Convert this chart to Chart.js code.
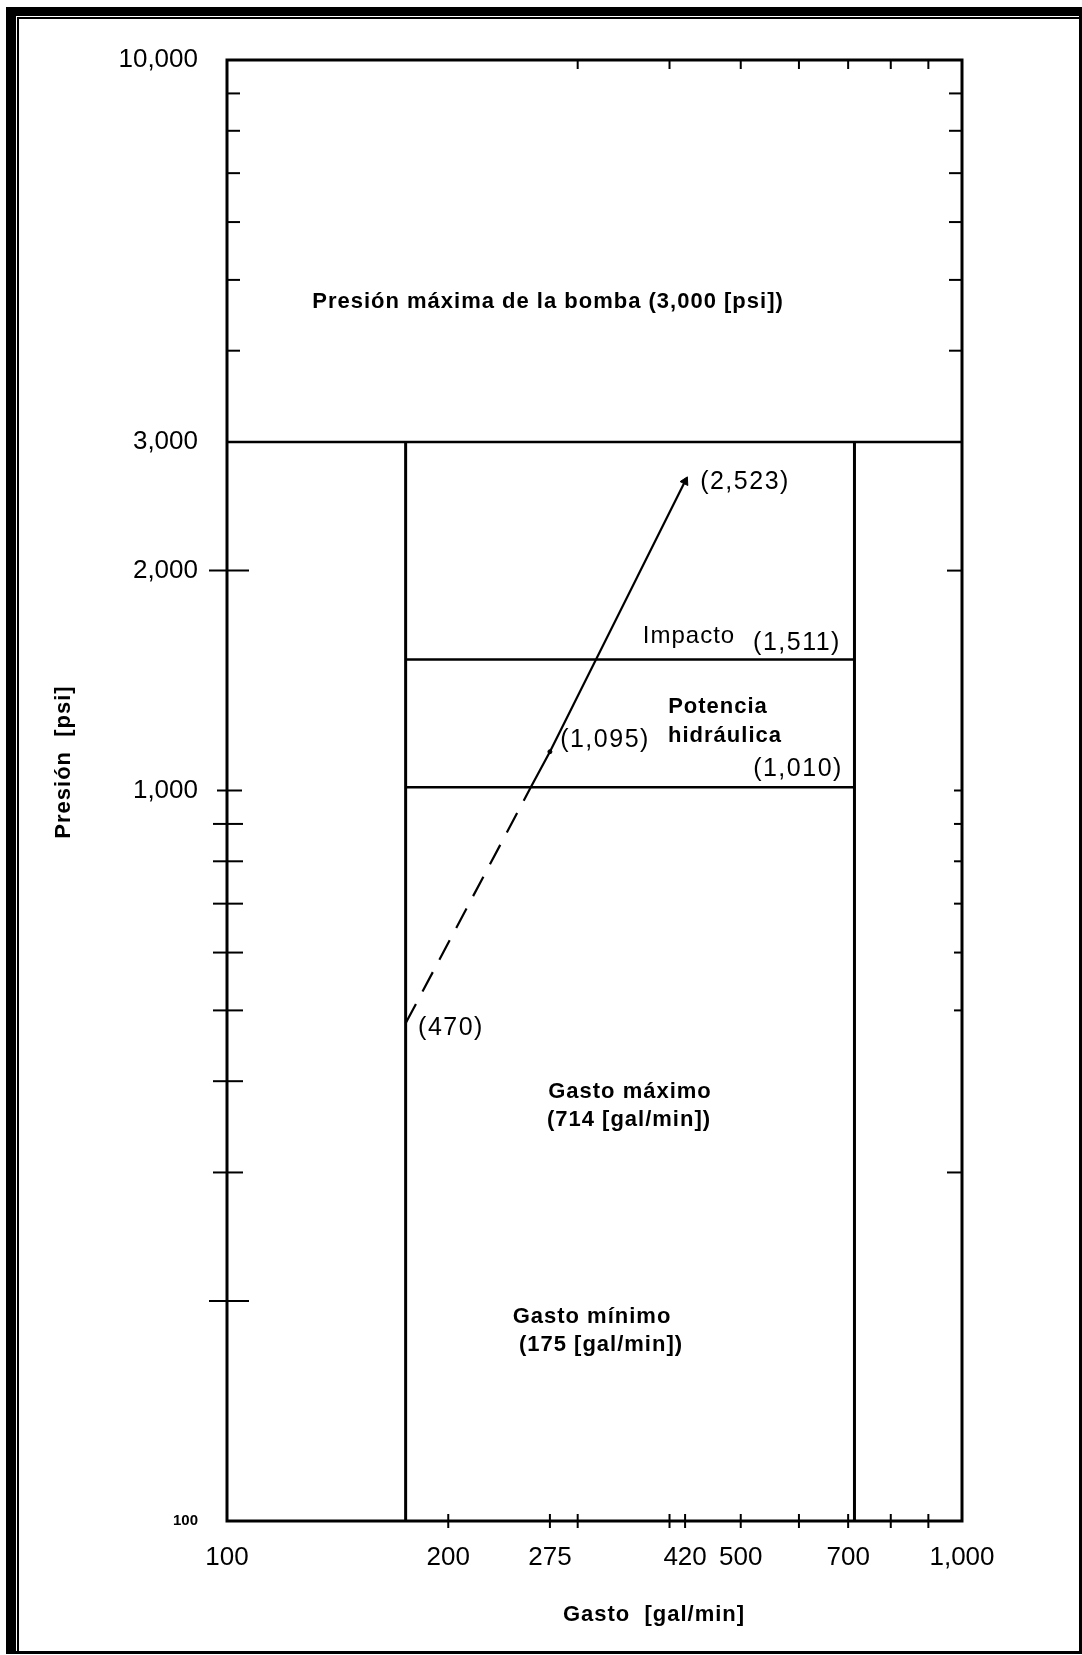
<!DOCTYPE html>
<html>
<head>
<meta charset="utf-8">
<script src="https://cdn.jsdelivr.net/npm/chart.js@4.4.0/dist/chart.umd.min.js"></script>
<style>
  html, body { margin: 0; padding: 0; background: #fff; }
  #wrap { width: 1082px; height: 1655px; }
</style>
</head>
<body>
<div id="wrap"><canvas id="chart" width="1082" height="1655"></canvas></div>
<script>
  // values
  const xRange = [100, 1000];
  const yRange = [100, 10000];

  const xLabelValues = [100, 200, 275, 420, 500, 700, 1000];
  const xLabelText = ['100', '200', '275', '420', '500', '700', '1,000'];
  const xBottomTicks = [200, 275, 300, 400, 420, 500, 600, 700, 800, 900];
  const xTopTicks = [300, 400, 500, 600, 700, 800, 900];

  const yLabelValues = [100, 1000, 2000, 3000, 10000];
  const yLabelText = ['100', '1,000', '2,000', '3,000', '10,000'];
  const yLeftTicks = [200, 300, 400, 500, 600, 700, 800, 900, 1000, 2000, 4000, 5000, 6000, 7000, 8000, 9000];
  const yRightTicks = [300, 500, 600, 700, 800, 900, 1000, 2000, 4000, 5000, 6000, 7000, 8000, 9000];

  const pumpMaxPsi = 3000;
  const flowMin = 175;
  const flowMax = 714;
  const impactPsi = 1511;
  const hpPsi = 1010;

  const opFlowSolid = [259, 275, 420];
  const opPsiSolid = [1010, 1130, 2650];
  const opFlowDashed = [175, 259];
  const opPsiDashed = [480, 1010];

  const FONT = "'Liberation Sans', Arial, Helvetica, sans-serif";

  // texts placed on the page (centre points, px)
  const notes = [
    { text: 'Presión máxima de la bomba (3,000 [psi])', x: 548, y: 302, size: 22, bold: true, sp: 1 },
    { text: '(2,523)', x: 745, y: 482, size: 25, sp: 1.5 },
    { text: 'Impacto', x: 689, y: 636, size: 24, sp: 1 },
    { text: '(1,511)', x: 797, y: 643, size: 25, sp: 1.5 },
    { text: 'Potencia', x: 718, y: 707, size: 22, bold: true, sp: 1 },
    { text: 'hidráulica', x: 725, y: 736, size: 22, bold: true, sp: 1 },
    { text: '(1,095)', x: 605, y: 740, size: 25, sp: 1.5 },
    { text: '(1,010)', x: 798, y: 769, size: 25, sp: 1.5 },
    { text: '(470)', x: 451, y: 1028, size: 25, sp: 1.5 },
    { text: 'Gasto máximo', x: 630, y: 1092, size: 22, bold: true, sp: 1 },
    { text: '(714 [gal/min])', x: 629, y: 1120, size: 22, bold: true, sp: 1 },
    { text: 'Gasto mínimo', x: 592, y: 1317, size: 22, bold: true, sp: 1 },
    { text: '(175 [gal/min])', x: 601, y: 1345, size: 22, bold: true, sp: 1 },
    { text: 'Gasto  [gal/min]', x: 654, y: 1615, size: 22, bold: true, sp: 1 },
    { text: 'Presión  [psi]', x: 64, y: 762, size: 22, bold: true, sp: 1, rot: -Math.PI / 2 }
  ];

  const pts = (xs, ys) => xs.map((x, i) => ({ x, y: ys[i] }));

  const pageFrame = {
    id: 'pageFrame',
    beforeDraw(chart) {
      const { ctx, width, height } = chart;
      ctx.save();
      ctx.fillStyle = '#fff';
      ctx.fillRect(0, 0, width, height);
      ctx.fillStyle = '#000';
      ctx.fillRect(6, 7, 10, height - 8);      // left thick
      ctx.fillRect(6, 7, width - 6, 9);        // top thick
      ctx.fillRect(17, 17, 2, height - 20);    // left thin
      ctx.fillRect(17, 17, width - 20, 2);     // top thin
      ctx.fillRect(width - 3, 7, 3, height - 8); // right
      ctx.fillRect(6, height - 4, width - 6, 3); // bottom
      ctx.restore();
    }
  };

  const axisMarks = {
    id: 'axisMarks',
    afterDraw(chart) {
      const { ctx, chartArea: a, scales: { x, y } } = chart;
      ctx.save();
      ctx.strokeStyle = '#000';
      ctx.lineCap = 'butt';
      const hline = (py, x0, x1) => { ctx.beginPath(); ctx.moveTo(x0, py); ctx.lineTo(x1, py); ctx.stroke(); };
      const vline = (px, y0, y1) => { ctx.beginPath(); ctx.moveTo(px, y0); ctx.lineTo(px, y1); ctx.stroke(); };

      ctx.lineWidth = 2;
      yLeftTicks.forEach(v => {
        const py = y.getPixelForValue(v);
        let out = 14, inn = 16;
        if (v === 200 || v === 2000) { out = 18; inn = 22; }
        else if (v === 1000) { out = 10; inn = 15; }
        else if (v > pumpMaxPsi) { out = 0; inn = 13; }
        hline(py, a.left - out, a.left + inn);
      });
      yRightTicks.forEach(v => {
        const py = y.getPixelForValue(v);
        let inn = 8;
        if (v === 300 || v === 2000) inn = 15;
        else if (v > pumpMaxPsi) inn = 13;
        hline(py, a.right - inn, a.right);
      });
      xBottomTicks.forEach(v => {
        const px = x.getPixelForValue(v);
        vline(px, a.bottom - 7, a.bottom + 7);
      });
      xTopTicks.forEach(v => {
        const px = x.getPixelForValue(v);
        vline(px, a.top, a.top + 9);
      });

      ctx.lineWidth = 3;
      ctx.strokeRect(a.left, a.top, a.right - a.left, a.bottom - a.top);

      ctx.fillStyle = '#000';
      ctx.textAlign = 'center';
      ctx.textBaseline = 'middle';
      notes.forEach(n => {
        ctx.save();
        ctx.font = (n.bold ? 'bold ' : '') + n.size + 'px ' + FONT;
        if ('letterSpacing' in ctx) ctx.letterSpacing = n.sp + 'px';
        ctx.translate(n.x, n.y);
        if (n.rot) ctx.rotate(n.rot);
        ctx.fillText(n.text, 0, 0);
        ctx.restore();
      });
      ctx.restore();
    }
  };

  const line = (data, width, extra) => Object.assign({
    data, borderColor: '#000', backgroundColor: '#000', borderWidth: width,
    pointRadius: 0, fill: false, tension: 0
  }, extra || {});

  new Chart(document.getElementById('chart'), {
    type: 'line',
    data: {
      datasets: [
        line(pts(xRange, [pumpMaxPsi, pumpMaxPsi]), 2.5),
        line(pts([flowMin, flowMin], [yRange[0], pumpMaxPsi]), 3),
        line(pts([flowMax, flowMax], [yRange[0], pumpMaxPsi]), 3),
        line(pts([flowMin, flowMax], [impactPsi, impactPsi]), 2.5),
        line(pts([flowMin, flowMax], [hpPsi, hpPsi]), 2.5),
        line(pts(opFlowSolid, opPsiSolid), 2.2, {
          pointRadius: [0, 2, 5],
          pointStyle: ['circle', 'circle', 'triangle'],
          pointRotation: [0, 0, 27],
          pointBorderWidth: 1
        }),
        line(pts(opFlowDashed, opPsiDashed), 2.2, { borderDash: [22, 14] })
      ]
    },
    options: {
      responsive: false,
      animation: false,
      events: [],
      layout: { padding: { top: 60, right: 120, bottom: 0, left: 0 } },
      plugins: { legend: { display: false }, tooltip: { enabled: false } },
      scales: {
        x: {
          type: 'logarithmic',
          min: xRange[0],
          max: xRange[1],
          afterBuildTicks: s => { s.ticks = xLabelValues.map(v => ({ value: v })); },
          afterFit: s => { s.height = 134; },
          grid: { display: false, drawTicks: false },
          border: { display: false },
          ticks: {
            autoSkip: false, maxRotation: 0, minRotation: 0, padding: 21, color: '#000',
            font: { family: FONT, size: 26 },
            callback: v => { const i = xLabelValues.indexOf(v); return i < 0 ? '' : xLabelText[i]; }
          }
        },
        y: {
          type: 'logarithmic',
          min: yRange[0],
          max: yRange[1],
          afterBuildTicks: s => { s.ticks = yLabelValues.map(v => ({ value: v })); },
          afterFit: s => { s.width = 227; },
          grid: { display: false, drawTicks: false },
          border: { display: false },
          ticks: {
            autoSkip: false, padding: 29, color: '#000',
            font: c => (c.tick && c.tick.value === 100)
              ? { family: FONT, size: 15, weight: 'bold' }
              : { family: FONT, size: 26 },
            callback: v => { const i = yLabelValues.indexOf(v); return i < 0 ? '' : yLabelText[i]; }
          }
        }
      }
    },
    plugins: [pageFrame, axisMarks]
  });
</script>
</body>
</html>
